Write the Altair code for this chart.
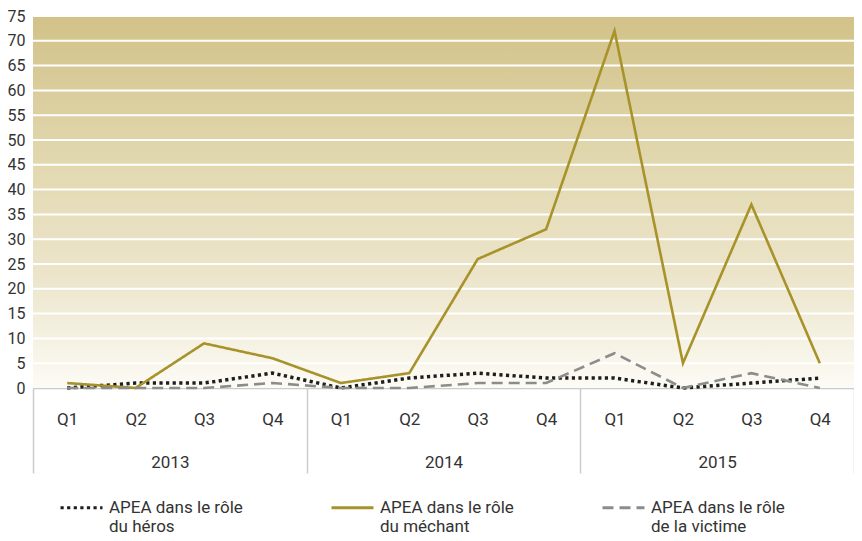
import altair as alt
import pandas as pd

years = ["2013", "2014", "2015"]
quarters = ["Q1", "Q2", "Q3", "Q4"]
series = [
    "APEA dans le rôle\ndu héros",
    "APEA dans le rôle\ndu méchant",
    "APEA dans le rôle\nde la victime",
]
heros = [0, 1, 1, 3, 0, 2, 3, 2, 2, 0, 1, 2]
mechant = [1, 0, 9, 6, 1, 3, 26, 32, 72, 5, 37, 5]
victime = [0, 0, 0, 1, 0, 0, 1, 1, 7, 0, 3, 0]
y_ticks = list(range(0, 80, 5))

colors = ["#1e1e1e", "#a8922a", "#8c8c8c"]
dashes = [[3.2, 3.4], [1, 0], [11, 6]]
widths = [3.5, 2.6, 2.6]

keys = [f"{y} {q}" for y in years for q in quarters]
rows = []
for s, vals in zip(series, [heros, mechant, victime]):
    for k, v in zip(keys, vals):
        rows.append({"key": k, "year": k[:4], "series": s, "value": v})
df = pd.DataFrame(rows)

FONT = "Roboto"
TXT = "#333333"

yscale = alt.Scale(domain=[0, 75], nice=False, zero=True)
yaxis = alt.Axis(values=y_ticks, title=None, ticks=False, domain=False, grid=False,
                 labelPadding=8, labelFontSize=16, labelColor=TXT, labelFont=FONT)


def Y(field):
    return alt.Y(field, type="quantitative", scale=yscale, axis=yaxis)


bg = alt.Chart(pd.DataFrame({"lo": [0], "hi": [75]})).mark_rect(
    color=alt.LinearGradient(
        gradient="linear",
        stops=[
            alt.GradientStop(color="#fcfbf5", offset=0),
            alt.GradientStop(color="#ece5cb", offset=0.3),
            alt.GradientStop(color="#e2d8b0", offset=0.6),
            alt.GradientStop(color="#d2c288", offset=1),
        ],
        x1=0, x2=0, y1=1, y2=0,
    )
).encode(y=Y("lo"), y2="hi:Q")

grid = alt.Chart(pd.DataFrame({"v": y_ticks[1:]})).mark_rule(
    color="white", strokeWidth=2
).encode(y=Y("v"))

legend = alt.Legend(
    title=None, orient="none", legendX=26, legendY=469, direction="horizontal",
    columns=3, columnPadding=82, symbolType="stroke", symbolSize=1764,
    symbolStrokeWidth=3, labelOffset=5, labelFontSize=17, labelColor=TXT,
    labelFont=FONT, labelLimit=400, labelExpr="split(datum.label, '\\n')",
)

qaxis = alt.Axis(
    title=None, orient="bottom", labelExpr="substring(datum.label, 5)", labelAngle=0,
    ticks=False, domainColor="#cccccc", domainWidth=1.5, labelPadding=23,
    labelFontSize=17, labelColor=TXT, labelFont=FONT, grid=False,
)

line_layers = []
for s, w in zip(series, widths):
    line_layers.append(
        alt.Chart(df[df["series"] == s]).mark_line(strokeWidth=w, strokeCap="butt").encode(
            x=alt.X("key:O", sort=keys, axis=qaxis),
            y=Y("value"),
            color=alt.Color("series:N", scale=alt.Scale(domain=series, range=colors), legend=legend),
            strokeDash=alt.StrokeDash("series:N", scale=alt.Scale(domain=series, range=dashes), legend=legend),
        )
    )
lines = alt.layer(*line_layers)

yaxis_year = alt.Axis(
    title=None, orient="bottom", domain=False, ticks=True, tickBand="extent",
    tickSize=85, tickColor="#cccccc", tickWidth=1.5, labelPadding=-19, labelAngle=0,
    labelFontSize=17, labelColor=TXT, labelFont=FONT, grid=False,
)
year_layer = alt.Chart(df).mark_point(opacity=0).encode(
    x=alt.X("year:N", sort=years, scale=alt.Scale(type="band", paddingInner=0, paddingOuter=0), axis=yaxis_year),
    y=Y("value"),
)

chart = alt.layer(bg, grid, lines, year_layer).resolve_scale(x="independent").properties(
    width=821, height=372,
    autosize=alt.AutoSizeParams(type="none"),
    padding={"left": 25, "top": 8, "right": 0, "bottom": 150},
).configure_view(stroke=None).configure(font=FONT)

chart.save("out.html", embed_options={"renderer": "svg", "actions": False})
